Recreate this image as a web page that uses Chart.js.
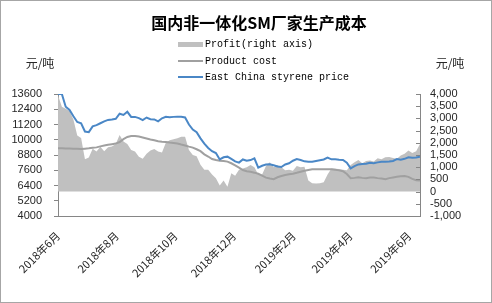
<!DOCTYPE html>
<html lang="zh">
<head>
  <meta charset="UTF-8" />
  <title>国内非一体化SM厂家生产成本</title>
  <script src="https://cdn.jsdelivr.net/npm/chart.js"></script>
  <style>
    body { margin: 0; background: #fff; }
    #wrap { width: 492px; height: 303px; position: relative; }
  </style>
</head>
<body>
  <div id="wrap"><canvas id="smCost"></canvas></div>

  <script>
    // sample dates (every 4 days)
    const dates = [
      '2018-06-01','2018-06-05','2018-06-09','2018-06-13','2018-06-17','2018-06-21','2018-06-25','2018-06-29',
      '2018-07-03','2018-07-07','2018-07-11','2018-07-15','2018-07-19','2018-07-23','2018-07-27','2018-07-31',
      '2018-08-04','2018-08-08','2018-08-12','2018-08-16','2018-08-20','2018-08-24','2018-08-28',
      '2018-09-01','2018-09-05','2018-09-09','2018-09-13','2018-09-17','2018-09-21','2018-09-25','2018-09-29',
      '2018-10-03','2018-10-07','2018-10-11','2018-10-15','2018-10-19','2018-10-23','2018-10-27','2018-10-31',
      '2018-11-04','2018-11-08','2018-11-12','2018-11-16','2018-11-20','2018-11-24','2018-11-28',
      '2018-12-02','2018-12-06','2018-12-10','2018-12-14','2018-12-18','2018-12-22','2018-12-26','2018-12-30',
      '2019-01-03','2019-01-07','2019-01-11','2019-01-15','2019-01-19','2019-01-23','2019-01-27','2019-01-31',
      '2019-02-04','2019-02-08','2019-02-12','2019-02-16','2019-02-20','2019-02-24','2019-02-28',
      '2019-03-04','2019-03-08','2019-03-12','2019-03-16','2019-03-20','2019-03-24','2019-03-28',
      '2019-04-01','2019-04-05','2019-04-09','2019-04-13','2019-04-17','2019-04-21','2019-04-25','2019-04-29',
      '2019-05-03','2019-05-07','2019-05-11','2019-05-15','2019-05-19','2019-05-23','2019-05-27','2019-05-31',
      '2019-06-04','2019-06-08','2019-06-12'
    ];
    // East China styrene price (left axis)
    const styrenePrice = [
      13600,13600,12600,12350,11850,11400,11300,10650,
      10600,11050,11150,11300,11450,11560,11600,11650,
      12050,11950,12200,11800,11800,11700,11550,
      11750,11620,11600,11450,11690,11800,11770,11800,
      11810,11810,11750,11200,10800,10600,10110,9700,
      9350,9100,8950,8450,8620,8670,8500,
      8300,8200,8450,8350,8400,8540,7800,7950,
      8050,8070,7990,7900,7850,8050,8150,8350,
      8480,8410,8300,8270,8270,8330,8390,
      8450,8600,8460,8460,8430,8410,8200,
      7750,7930,8060,8090,8120,8195,8160,8220,
      8270,8270,8280,8330,8480,8420,8500,8620,
      8580,8600,8670
    ];
    // product cost (left axis)
    const productCost = [
      9330,9330,9320,9310,9300,9290,9270,9300,
      9330,9370,9400,9480,9540,9600,9650,9700,
      9820,10050,10220,10290,10290,10250,10180,
      10100,10020,9960,9880,9850,9830,9780,9740,
      9700,9620,9550,9460,9380,9250,9100,8850,
      8680,8480,8400,8340,8330,8280,8150,
      7980,7800,7620,7520,7480,7410,7320,7180,
      7020,6950,6900,7050,7150,7230,7280,7330,
      7400,7480,7560,7620,7670,7680,7680,
      7680,7680,7670,7640,7590,7520,7300,
      6980,7000,7040,7000,6980,7030,7020,6980,
      6950,6900,6980,7030,7080,7120,7150,7080,
      6920,6820,6790
    ];
    // profit (right axis)
    const profit = [
      3950,3480,3400,3300,2950,2300,2200,1330,
      1400,1760,1640,1840,1650,1820,1850,1950,
      2320,2050,1950,1700,1640,1430,1350,
      1550,1680,1750,1640,1600,2000,2100,2150,
      2190,2250,2250,1700,1500,1450,1100,900,
      900,700,550,250,450,200,750,
      650,900,950,1000,1090,1000,700,700,
      1050,1200,1000,1090,1000,880,900,850,
      1050,1000,1020,450,340,330,340,
      380,700,950,940,930,900,870,
      1090,1200,1300,1160,1250,1270,1230,1370,
      1330,1410,1420,1380,1350,1480,1550,1680,
      1580,1650,1950
    ];
    const tickDates = ['2018-06-01','2018-08-01','2018-10-01','2018-12-01','2019-02-01','2019-04-01','2019-06-01'];
    const tickLabels = ['2018年6月','2018年8月','2018年10月','2018年12月','2019年2月','2019年4月','2019年6月'];

    const titleText = '国内非一体化SM厂家生产成本';
    const unitText = '元/吨';

    // days since first date
    const day0 = Date.UTC(2018, 5, 1);
    function dayOf(s) {
      const [y, m, d] = s.split('-').map(Number);
      return (Date.UTC(y, m - 1, d) - day0) / 86400000;
    }
    const pts = arr => dates.map((d, i) => ({ x: dayOf(d), y: arr[i] }));
    const tickDays = tickDates.map(dayOf);

    const axisColor = '#868686';
    const textColor = '#262626';

    // title, units, legend, inner ticks of right axis, outer border
    const decor = {
      id: 'decor',
      afterDraw(chart) {
        const ctx = chart.ctx;
        ctx.save();
        ctx.strokeStyle = '#a6a6a6'; ctx.lineWidth = 1;
        ctx.strokeRect(0.5, 0.5, chart.width - 1, chart.height - 1);

        ctx.fillStyle = '#000';
        ctx.textAlign = 'center'; ctx.textBaseline = 'middle';
        ctx.font = 'bold 16px "Noto Sans CJK SC"';
        ctx.fillText(titleText, 259, 23);
        ctx.fillStyle = textColor;
        ctx.font = '12px "Noto Sans CJK SC"';
        ctx.fillText(unitText, 40, 63);
        ctx.fillText(unitText, 450, 63);

        // legend
        const ds = chart.data.datasets;
        const order = [2, 1, 0];
        const ys = [44, 61, 77];
        ctx.font = '10px "Liberation Mono"';
        ctx.textAlign = 'left';
        order.forEach((k, i) => {
          const d = ds[k], y = ys[i];
          if (d.fill) {
            ctx.fillStyle = d.backgroundColor;
            ctx.fillRect(178, y - 2, 25, 5);
          } else {
            ctx.strokeStyle = d.borderColor; ctx.lineWidth = 2;
            ctx.beginPath(); ctx.moveTo(178, y); ctx.lineTo(203, y); ctx.stroke();
          }
          ctx.fillStyle = '#000';
          ctx.fillText(d.label, 205, y);
        });

        // right axis ticks point inward
        const y1 = chart.scales.y1;
        ctx.strokeStyle = axisColor; ctx.lineWidth = 1;
        y1.ticks.forEach(t => {
          const py = Math.round(y1.getPixelForValue(t.value)) + 0.5;
          ctx.beginPath(); ctx.moveTo(y1.left - 4, py); ctx.lineTo(y1.left, py); ctx.stroke();
        });
        ctx.restore();
      }
    };

    new Chart(document.getElementById('smCost'), {
      type: 'line',
      data: {
        datasets: [
          { label: 'East China styrene price', data: pts(styrenePrice), yAxisID: 'y',
            borderColor: '#4a87c6', borderWidth: 2, pointRadius: 0, tension: 0, fill: false },
          { label: 'Product cost', data: pts(productCost), yAxisID: 'y',
            borderColor: '#a0a0a0', borderWidth: 2, pointRadius: 0, tension: 0, fill: false },
          { label: 'Profit(right axis)', data: pts(profit), yAxisID: 'y1',
            borderColor: 'rgba(0,0,0,0)', borderWidth: 0, backgroundColor: '#c0c0c0',
            pointRadius: 0, tension: 0, fill: 'origin' }
        ]
      },
      options: {
        responsive: true, maintainAspectRatio: false, animation: false,
        layout: { padding: { top: 94, left: 0, right: 0, bottom: 0 } },
        plugins: { legend: { display: false }, tooltip: { enabled: false }, title: { display: false } },
        scales: {
          x: {
            type: 'linear', min: 0, max: dayOf('2019-06-12'),
            afterFit: s => { s.height = 87; },
            afterBuildTicks: s => { s.ticks = tickDays.map(v => ({ value: v })); },
            grid: { display: false }, border: { color: axisColor },
            ticks: {
              autoSkip: false, minRotation: 45, maxRotation: 45, padding: 5,
              color: textColor, font: { family: '"Noto Sans CJK SC"', size: 11 },
              callback: v => tickLabels[tickDays.indexOf(v)]
            }
          },
          y: {
            position: 'left', min: 4000, max: 13600,
            afterFit: s => { s.width = 58; },
            grid: { drawOnChartArea: false, drawTicks: true, tickLength: 4, color: axisColor },
            border: { color: axisColor },
            ticks: { stepSize: 1200, autoSkip: false, padding: 12, color: textColor,
              font: { family: '"Liberation Sans"', size: 11 }, callback: v => String(v) }
          },
          y1: {
            position: 'right', min: -1000, max: 4000,
            afterFit: s => { s.width = 72; },
            grid: { drawOnChartArea: false, drawTicks: false },
            border: { color: axisColor },
            ticks: { stepSize: 500, autoSkip: false, padding: 10, color: textColor,
              font: { family: '"Liberation Sans"', size: 11 },
              callback: v => v.toLocaleString('en-US') }
          }
        }
      },
      plugins: [decor]
    });
  </script>
</body>
</html>
